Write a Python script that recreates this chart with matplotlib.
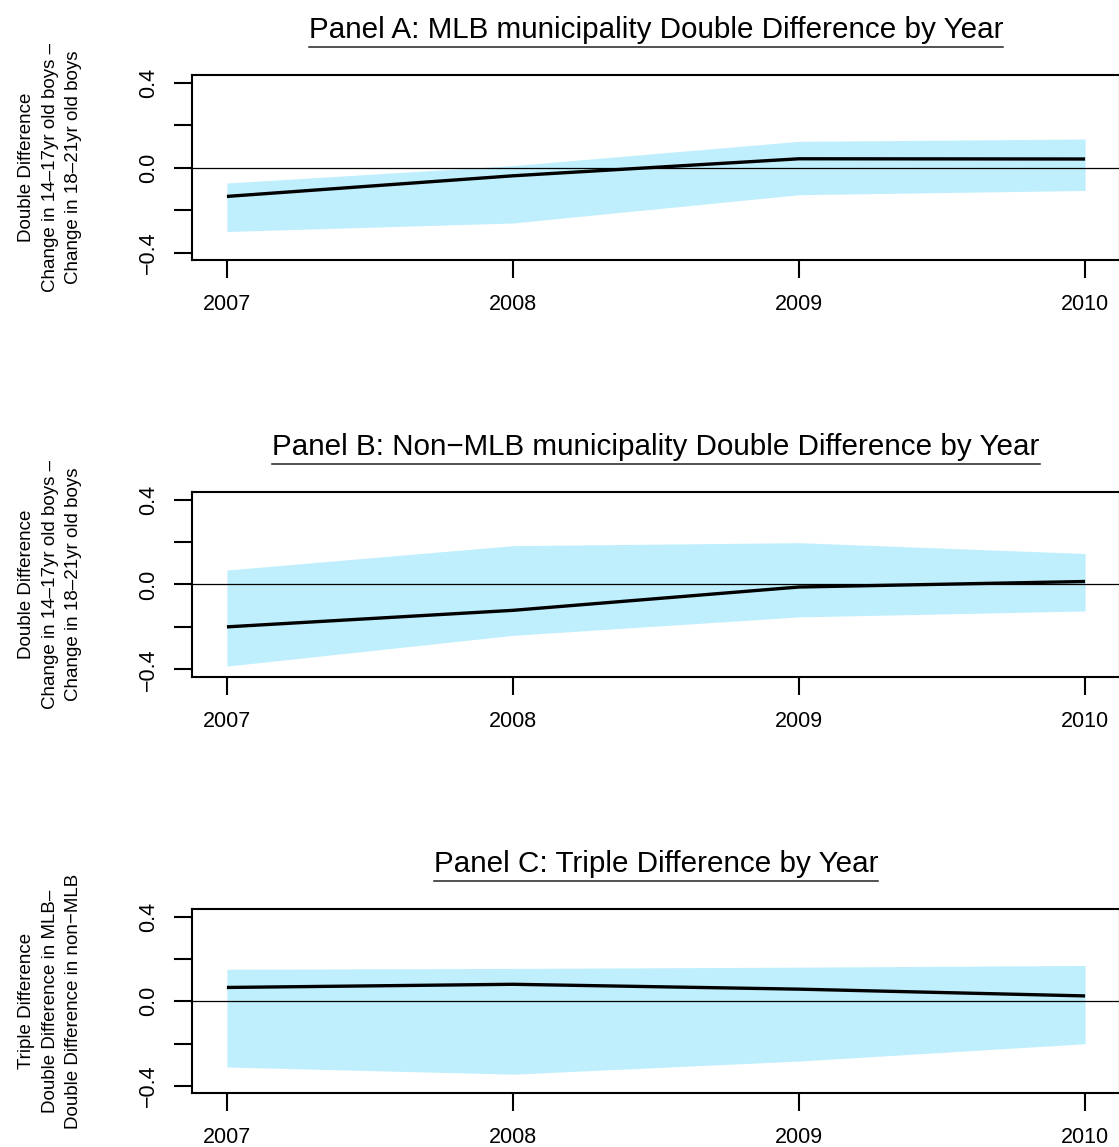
import matplotlib
matplotlib.use("Agg")
import matplotlib.pyplot as plt
from matplotlib.lines import Line2D

plt.rcParams['font.family'] = ['Liberation Sans', 'DejaVu Sans']

years = [2007, 2008, 2009, 2010]

# Panel A
a_est = [-0.135, -0.038, 0.042, 0.041]
a_hi = [-0.072, 0.010, 0.124, 0.135]
a_lo = [-0.300, -0.260, -0.127, -0.107]

# Panel B
b_est = [-0.200, -0.122, -0.012, 0.014]
b_hi = [0.068, 0.183, 0.197, 0.146]
b_lo = [-0.385, -0.240, -0.153, -0.125]

# Panel C
c_est = [0.065, 0.080, 0.057, 0.025]
c_hi = [0.151, 0.155, 0.161, 0.169]
c_lo = [-0.311, -0.345, -0.283, -0.201]

titles = ["Panel A: MLB municipality Double Difference by Year",
          "Panel B: Non\u2212MLB municipality Double Difference by Year",
          "Panel C: Triple Difference by Year"]
ylabels = ["Double Difference\nChange in 14\u201317yr old boys \u2013\nChange in 18\u201321yr old boys",
           "Double Difference\nChange in 14\u201317yr old boys \u2013\nChange in 18\u201321yr old boys",
           "Triple Difference\nDouble Difference in MLB\u2013\nDouble Difference in non\u2212MLB"]
yticks = [-0.4, -0.2, 0.0, 0.2, 0.4]
ytick_labels = ["\u22120.4", "", "0.0", "", "0.4"]
xtick_labels = ["2007", "2008", "2009", "2010"]

W, H = 1119, 1147
fig = plt.figure(figsize=(W / 100, H / 100), dpi=100)

# pixel layout: (top, bottom) of each axes, title baseline
panels = [
    (a_est, a_hi, a_lo, 75, 260, 38),
    (b_est, b_hi, b_lo, 492, 676.5, 455),
    (c_est, c_hi, c_lo, 909, 1093, 872),
]
left_px, right_px = 192, 1120
band_color = "#BFEEFD"

axes = []
for i, (est, hi, lo, top, bot, tb) in enumerate(panels):
    ax = fig.add_axes([left_px / W, 1 - bot / H, (right_px - left_px) / W, (bot - top) / H])
    ax.fill_between(years, lo, hi, color=band_color, linewidth=0, zorder=1)
    ax.axhline(0, color="black", linewidth=0.9, zorder=2)
    ax.plot(years, est, color="black", linewidth=2.4, zorder=3, solid_capstyle="butt")
    ax.set_xlim(2006.878, 2010.122)
    ax.set_ylim(-0.434, 0.436)
    ax.set_xticks(years)
    ax.set_xticklabels(xtick_labels, fontsize=15.5)
    ax.set_yticks(yticks)
    ax.set_yticklabels(ytick_labels, fontsize=15.5, rotation=90, va="center")
    ax.tick_params(axis="both", direction="out", length=13, width=1.5, color="black")
    ax.tick_params(axis="x", pad=11.5)
    ax.tick_params(axis="y", pad=10.5)
    for s in ax.spines.values():
        s.set_linewidth(1.5)
    ax.set_ylabel(ylabels[i], fontsize=13.5, linespacing=1.5)
    ax.yaxis.set_label_coords(-0.118, 0.5)
    t = fig.text(((left_px + right_px) / 2) / W, 1 - tb / H, titles[i],
                 fontsize=21.3, ha="center", va="baseline")
    axes.append((t, tb))

fig.canvas.draw()
r = fig.canvas.get_renderer()
for t, tb in axes:
    bb = t.get_window_extent(renderer=r)
    yline = 1 - (tb + 8.5) / H
    fig.add_artist(Line2D([bb.x0 / W, bb.x1 / W], [yline, yline],
                          transform=fig.transFigure, color="#222222", linewidth=1.1))

fig.savefig("out.png", dpi=100)
